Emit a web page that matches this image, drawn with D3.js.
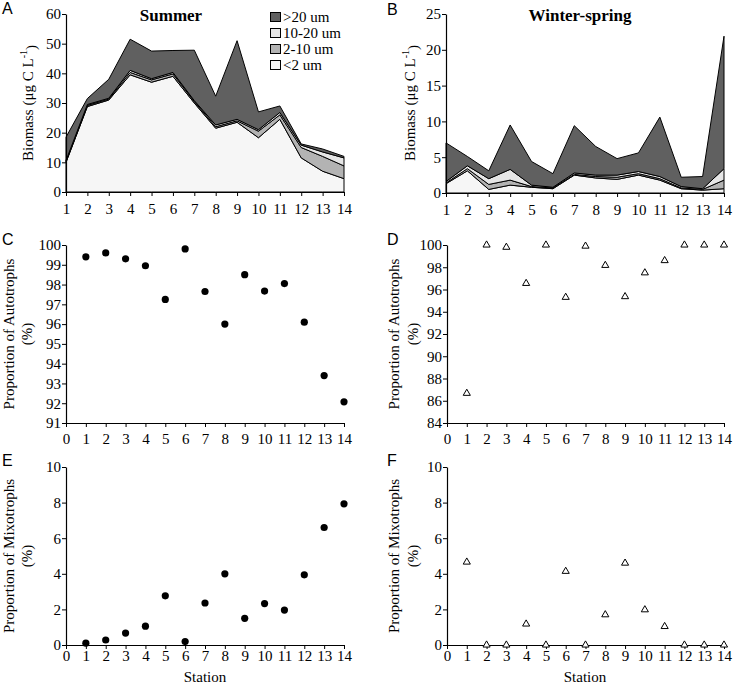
<!DOCTYPE html>
<html><head><meta charset="utf-8">
<script src="https://cdn.jsdelivr.net/npm/d3@7"></script>
<style>
body{margin:0;background:#fff;}
svg text{font-family:"Liberation Serif","Times New Roman",serif;fill:#000;}
svg .tick text{font-family:"Liberation Serif","Times New Roman",serif !important;font-size:15px !important;}
.lbl{font-family:"Liberation Sans",Arial,sans-serif !important;font-size:16px;}
</style></head>
<body><svg id="c" width="733" height="685"></svg>
<script>
const stations = [1,2,3,4,5,6,7,8,9,10,11,12,13,14];
const sizeClasses = ["<2 um","2-10 um","10-20 um",">20 um"];
const legendOrder = [">20 um","10-20 um","2-10 um","<2 um"];
// Summer biomass by size class (µg C L-1)
const summerLt2   = [10,28.8,31,39.5,37,39,30,21.5,23.5,18.3,24.5,11.5,7,4.5];
const summer2to10 = [0.3,0.4,0.3,0.8,0.8,0.8,0.5,0.5,0.5,2.2,1.5,3.5,5,4.3];
const summer10to20= [0.3,0.3,0.3,0.7,0.4,0.5,0.3,0.6,0.5,0.5,0.8,0.8,1.5,2.7];
const summerGt20  = [7.9,2,6.4,10.5,9.3,7.4,17,9.7,26.5,6,2.2,0.4,1,0.5];
// Winter-spring biomass by size class
const winterLt2   = [1.3,3.1,0.5,1.1,0.8,0.6,2.5,2.1,1.9,2.5,1.8,0.6,0.4,0.6];
const winter2to10 = [0.1,0.3,0.7,0.7,0.1,0.1,0.1,0.2,0.3,0.2,0.2,0.1,0.1,1.2];
const winter10to20= [0.2,0.4,0.8,1.5,0.2,0.1,0.2,0.2,0.3,0.3,0.3,0.2,0.1,1.6];
const winterGt20  = [5.4,1.3,1.1,6.2,3.3,1.9,6.6,4.0,2.3,2.6,8.3,1.3,1.7,18.5];
// Proportions (%)
const summerAuto  = [99.4,99.6,99.3,98.95,97.25,99.8,97.65,96.0,98.5,97.67,98.05,96.1,93.4,92.07];
const winterAuto  = [86.67,100,99.8,96.55,100,95.3,99.9,98.17,95.36,97.5,98.6,100,100,100];
const summerMixo  = [0.1,0.28,0.67,1.06,2.76,0.19,2.36,4.0,1.5,2.33,1.96,3.94,6.6,7.93];
const winterMixo  = [4.66,0,0,1.18,0,4.14,0,1.7,4.6,1.98,1.04,0,0,0];
const biomassTicksA = [0,10,20,30,40,50,60];
const biomassTicksB = [0,5,10,15,20,25];
const autoTicksC = [91,92,93,94,95,96,97,98,99,100];
const autoTicksD = [84,86,88,90,92,94,96,98,100];
const mixoTicks = [0,2,4,6,8,10];
const xTicksCF = [0,1,2,3,4,5,6,7,8,9,10,11,12,13,14];

const colors = {"<2 um":"#f6f6f6","2-10 um":"#b3b3b3","10-20 um":"#e6e6e6",">20 um":"#606060"};
const svg = d3.select("#c");

function axes(g, x, y, xt, yt, labOff){
  const ax = g.append("g").attr("transform",`translate(0,${y.range()[0]})`)
    .call(d3.axisBottom(x).tickValues(xt).tickFormat(d3.format("d")).tickSize(4).tickSizeOuter(0));
  ax.attr("font-family",null).attr("font-size",null);
  ax.selectAll("text").attr("dy",null).attr("y",labOff);
  const ay = g.append("g").attr("transform",`translate(${x.range()[0]},0)`)
    .call(d3.axisLeft(y).tickValues(yt).tickSize(4).tickSizeOuter(0));
  ay.attr("font-family",null).attr("font-size",null);
  ay.selectAll("text").attr("x",-5);
  g.selectAll(".domain").attr("stroke","#000").attr("stroke-width",1.2);
  g.selectAll(".tick line").attr("stroke","#000");
}
function ytitle(cy, lines){
  lines.forEach(l=>{
    const t = svg.append("text").attr("transform",`translate(${l.x},${cy}) rotate(-90)`)
      .attr("text-anchor","middle").attr("dy","0.35em").style("font-size","15px");
    if (l.sup){ t.append("tspan").text(l.t); t.append("tspan").attr("dy","-0.6em").style("font-size","10px").text(l.sup);
      t.append("tspan").attr("dy","0.6em").text(")"); }
    else t.text(l.t);
  });
}
function stackPanel(left,right,top,bottom,ymax,yt,layers,title,titleX){
  const x = d3.scaleLinear().domain([1,14]).range([left,right]);
  const y = d3.scaleLinear().domain([0,ymax]).range([bottom,top]);
  const rows = stations.map((s,i)=>{const o={station:s}; sizeClasses.forEach((k,j)=>o[k]=layers[j][i]); return o;});
  const st = d3.stack().keys(sizeClasses)(rows);
  const area = d3.area().x(d=>x(d.data.station)).y0(d=>y(d[0])).y1(d=>y(d[1]));
  const g = svg.append("g");
  g.selectAll("path.a").data(st).join("path").attr("class","a").attr("d",area)
    .attr("fill",d=>colors[d.key]).attr("stroke","#000").attr("stroke-width",1).attr("stroke-linejoin","round");
  axes(g,x,y,stations,yt,22);
  svg.append("text").attr("x",titleX).attr("y",top+7).attr("text-anchor","middle")
    .style("font-size","17px").style("font-weight","bold").text(title);
  return g;
}
function scatterPanel(left,right,top,bottom,ydom,yt,vals,tri,labOff){
  const x = d3.scaleLinear().domain([0,14]).range([left,right]);
  const y = d3.scaleLinear().domain(ydom).range([bottom,top]);
  const g = svg.append("g");
  axes(g,x,y,xTicksCF,yt,labOff);
  if (tri){
    g.selectAll("path.p").data(vals).join("path").attr("class","p")
      .attr("transform",(d,i)=>`translate(${x(stations[i])},${y(d)})`)
      .attr("d",d3.symbol(d3.symbolTriangle,22)).attr("fill","#fff").attr("stroke","#000").attr("stroke-width",1);
  } else {
    g.selectAll("circle").data(vals).join("circle").attr("cx",(d,i)=>x(stations[i])).attr("cy",d=>y(d))
      .attr("r",3.6).attr("fill","#000");
  }
}

// A
stackPanel(66,344,14,192,60,biomassTicksA,[summerLt2,summer2to10,summer10to20,summerGt20],"Summer",171);
const lg = svg.append("g");
legendOrder.forEach((k,i)=>{
  lg.append("rect").attr("x",270.5).attr("y",12.5+i*16).attr("width",10).attr("height",9)
    .attr("fill",colors[k]).attr("stroke","#000").attr("stroke-width",1);
  lg.append("text").attr("x",283).attr("y",21.5+i*16).style("font-size","15px").text(k);
});
// B
stackPanel(446,724,14,193,25,biomassTicksB,[winterLt2,winter2to10,winter10to20,winterGt20],"Winter-spring",580);
// C, D, E, F
scatterPanel(66,344,245,423,[91,100],autoTicksC,summerAuto,false,21);
scatterPanel(447,724,245,423,[84,100],autoTicksD,winterAuto,true,21);
scatterPanel(66,344,467,645,[0,10],mixoTicks,summerMixo,false,16);
scatterPanel(447,724,467,645,[0,10],mixoTicks,winterMixo,true,16);

ytitle(103,[{x:28,t:"Biomass (μg C L",sup:"-1"}]);
ytitle(103,[{x:410,t:"Biomass (μg C L",sup:"-1"}]);
ytitle(334,[{x:9,t:"Proportion of Autotrophs"},{x:27,t:"(%)"}]);
ytitle(334,[{x:394,t:"Proportion of Autotrophs"},{x:413,t:"(%)"}]);
ytitle(556,[{x:9,t:"Proportion of  Mixotrophs"},{x:27,t:"(%)"}]);
ytitle(556,[{x:394,t:"Proportion of  Mixotrophs"},{x:413,t:"(%)"}]);
svg.append("text").attr("x",205).attr("y",682).attr("text-anchor","middle").style("font-size","15px").text("Station");
svg.append("text").attr("x",585).attr("y",682).attr("text-anchor","middle").style("font-size","15px").text("Station");

[["A",2,14],["B",387,15],["C",2,245],["D",387,245],["E",2,466],["F",387,466]].forEach(([t,x,y])=>
  svg.append("text").attr("class","lbl").attr("x",x).attr("y",y).text(t));
</script></body></html>
